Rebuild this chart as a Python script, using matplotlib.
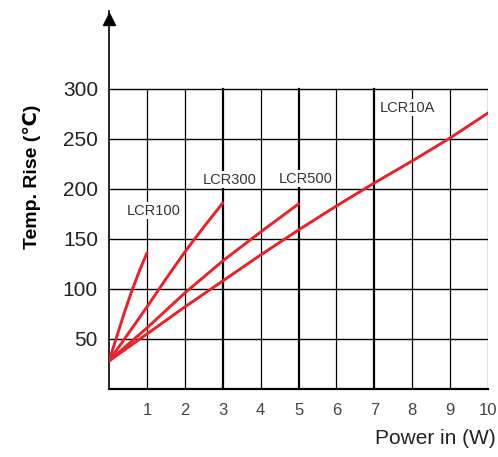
import numpy as np
import matplotlib
matplotlib.use("Agg")
import matplotlib.pyplot as plt

plt.rcParams['font.family'] = ['Liberation Sans', 'DejaVu Sans']

# --- data ---
x_100 = [0, 0.2, 0.4, 0.6, 0.8, 1.0]
y_100 = [28, 52, 76, 98, 118, 136]

x_300 = [0, 0.5, 1.0, 1.5, 2.0, 2.5, 3.0]
y_300 = [28, 55, 82, 110, 137, 162, 186]

x_500 = [0, 1, 2, 3, 4, 5]
y_500 = [28, 61, 96, 128, 157, 185]

x_10a = [0, 1, 2, 3, 4, 5, 6, 7, 8, 9, 10]
y_10a = [28, 55, 82, 108, 134, 159, 183, 206, 228, 251, 276]

series = [(x_100, y_100), (x_300, y_300), (x_500, y_500), (x_10a, y_10a)]
labels = ["LCR100", "LCR300", "LCR500", "LCR10A"]
label_pos = [(1.19, 178), (3.19, 209), (5.2, 210), (7.88, 281)]

x_ticks = list(range(1, 11))
y_ticks = [50, 100, 150, 200, 250, 300]

fig = plt.figure(figsize=(4.98, 4.57), dpi=100)
ax = fig.add_axes([0.219, 0.149, 0.761, 0.827])
ax.set_xlim(0, 10)
ax.set_ylim(0, 378)

# grid (drawn by hand so it stops at 300)
for yv in y_ticks:
    ax.plot([0, 10], [yv, yv], color='black', lw=1.0, zorder=1)
for xv in x_ticks:
    w = 1.6 if xv in (3, 5, 7) else 0.9
    ax.plot([xv, xv], [0, 300], color='black', lw=w, zorder=1)

for (xs, ys) in series:
    ax.plot(xs, ys, color='#e8222a', lw=2.1, solid_capstyle='round',
            solid_joinstyle='round', zorder=3)

for txt, (lx, ly) in zip(labels, label_pos):
    ax.text(lx, ly, txt, ha='center', va='center', fontsize=10.5, color='#333333',
            bbox=dict(facecolor='white', edgecolor='none', pad=1.0), zorder=2)

# axes
for s in ['top', 'right']:
    ax.spines[s].set_visible(False)
ax.spines['bottom'].set_bounds(0, 10)
ax.spines['bottom'].set_linewidth(1.6)
ax.spines['left'].set_linewidth(1.2)
ax.plot(0, 370, marker='^', ms=8, color='black', clip_on=False, zorder=5)

ax.set_xticks(x_ticks)
ax.set_xticklabels([str(v) for v in x_ticks], fontsize=12, color='#444444')
ax.set_yticks(y_ticks)
ax.set_yticklabels([str(v) for v in y_ticks], fontsize=15, color='#222222')
ax.tick_params(axis='both', length=0)
ax.tick_params(axis='x', pad=10)
ax.tick_params(axis='y', pad=8)

ax.set_ylabel("Temp. Rise (℃)", fontsize=14, fontweight='bold', labelpad=10)
ax.yaxis.set_label_coords(-0.18, 0.56)
fig.text(0.995, 0.04, "Power in (W)", ha='right', va='center', fontsize=15, color='#222222')

fig.savefig("out.png", dpi=100)
